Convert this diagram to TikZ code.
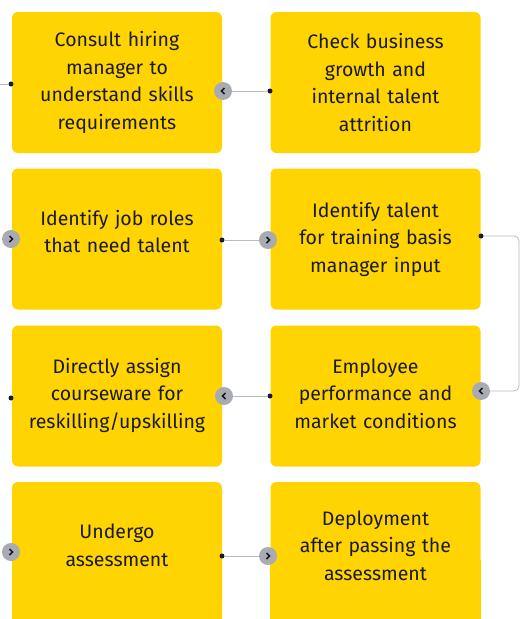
\documentclass[tikz,border=0pt]{standalone}
\usepackage{fontspec}
\setmainfont{Fira Sans}
\usetikzlibrary{positioning}
\definecolor{boxyellow}{HTML}{FFD400}
\definecolor{knobgray}{HTML}{A8ACB2}
\definecolor{linkgray}{HTML}{B4BCC6}
\definecolor{inkdark}{HTML}{1A1A24}
\begin{document}
\begin{tikzpicture}[x=1pt,y=-1pt,
    stepbox/.style={fill=boxyellow, rounded corners=6pt, minimum width=210pt, minimum height=141pt,
        text width=200pt, align=center, inner sep=0pt, text=inkdark, font=\fontsize{19.5}{27.5}\selectfont},
    lastbox/.style={stepbox, minimum height=127pt},
    link/.style={draw=linkgray, line width=0.8pt},
    dot/.style={circle, fill=inkdark, inner sep=0pt, minimum size=5pt},
    knob/.style={circle, fill=knobgray, inner sep=0pt, minimum size=18pt},
    nextknob/.style={knob, path picture={\draw[inkdark, line width=1.5pt]
        ([xshift=-1.5pt,yshift=3pt]path picture bounding box.center) -- ++(3pt,-3pt) -- ++(-3pt,-3pt);}},
    prevknob/.style={knob, path picture={\draw[inkdark, line width=1.5pt]
        ([xshift=1.5pt,yshift=3pt]path picture bounding box.center) -- ++(-3pt,-3pt) -- ++(3pt,-3pt);}}]
    \clip (0,0) rectangle (521,619);
    \fill[white] (0,0) rectangle (521,619);
    \fill[boxyellow] (12,560) rectangle (222,630) (270,560) rectangle (481,630);

    \node[stepbox] (consult) at (117,82.5) {Consult hiring\\manager to\\understand skills\\requirements};
    \node[stepbox] (check) at (375.5,82.5) {Check business\\growth and\\internal talent\\attrition};
    \node[stepbox] (roles) at (117,239) {Identify job roles\\that need talent\\[-12pt]\mbox{}};
    \node[stepbox] (talent) at (375.5,239) {Identify talent\\for training basis\\manager input};
    \node[stepbox] (assign) at (117,396) {Directly assign\\courseware for\\reskilling/upskilling\\[-22pt]\mbox{}};
    \node[stepbox] (perform) at (375.5,396) {Employee\\performance and\\market conditions\\[-22pt]\mbox{}};
    \node[lastbox] (undergo) at (117,545.5) {Undergo\\assessment};
    \node[lastbox] (deploy) at (375.5,545.5) {Deployment\\after passing the\\assessment};

    \coordinate (inlet) at (0,84);
    \node[dot] (d1) at (11,84) {};
    \draw[link] (inlet) -- (d1);

    \node[dot] (d2) at (270,91) {};
    \node[prevknob] (k1) at (223,91) {};
    \draw[link] (k1) -- (d2);

    \node[nextknob] (k2) at (11,239) {};
    \node[dot] (d3) at (222,240) {};
    \node[nextknob] (k3) at (268,240) {};
    \draw[link] (d3) -- (k3);

    \node[dot] (d4) at (481,236) {};
    \node[prevknob] (k4) at (481,391) {};
    \draw[link, rounded corners=5pt] (d4) -- (519,236) -- (519,391) -- (k4);

    \node[dot] (d5) at (270,396) {};
    \node[prevknob] (k5) at (224,396) {};
    \draw[link] (k5) -- (d5);
    \node[dot] (d6) at (11,398) {};

    \node[nextknob] (k6) at (11,552) {};
    \node[dot] (d7) at (222,556) {};
    \node[nextknob] (k7) at (268,556) {};
    \draw[link] (d7) -- (k7);
\end{tikzpicture}
\end{document}
